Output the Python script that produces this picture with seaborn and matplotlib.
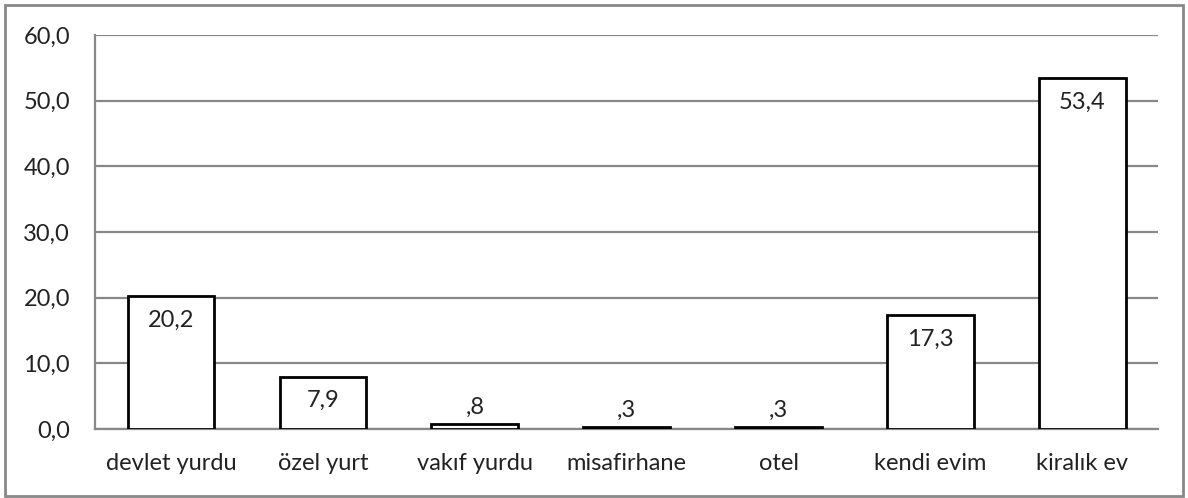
import pandas as pd
import matplotlib.pyplot as plt
import seaborn as sns
from matplotlib.patches import Rectangle
from matplotlib.ticker import FuncFormatter

categories = ['devlet yurdu', 'özel yurt', 'vakıf yurdu', 'misafirhane', 'otel', 'kendi evim', 'kiralık ev']
values = [20.2, 7.9, 0.8, 0.3, 0.3, 17.3, 53.4]
y_ticks = [0, 10, 20, 30, 40, 50, 60]

df = pd.DataFrame({'yer': categories, 'yuzde': values})

sns.set_style('white')
plt.rcParams['font.family'] = ['Lato', 'DejaVu Sans']
FS = 17

fig = plt.figure(figsize=(11.88, 4.98), dpi=100)
ax = fig.add_axes([0.080, 0.1386, 0.895, 0.791])

sns.barplot(data=df, x='yer', y='yuzde', color='white', edgecolor='black',
            linewidth=2, width=0.57, saturation=1, ax=ax, zorder=3)

ax.set_ylim(0, 60)
ax.set_yticks(y_ticks)
ax.yaxis.set_major_formatter(FuncFormatter(lambda v, p: '{:.1f}'.format(v).replace('.', ',')))
ax.grid(axis='y', color='#888888', linewidth=1.6, zorder=0)
ax.set_axisbelow(True)
ax.set_xlabel('')
ax.set_ylabel('')
ax.tick_params(axis='both', length=0, labelsize=FS, colors='#222222')
ax.tick_params(axis='x', pad=17)
ax.tick_params(axis='y', pad=18)
for s in ['top', 'right']:
    ax.spines[s].set_visible(False)
for s in ['left', 'bottom']:
    ax.spines[s].set_color('#888888')
    ax.spines[s].set_linewidth(1.6)

def fmt(v):
    t = '{:.1f}'.format(v).replace('.', ',')
    if t.startswith('0'):
        t = t[1:]
    return t

for i, v in enumerate(values):
    if v > 3:
        ax.annotate(fmt(v), (i, v), xytext=(0, -17), textcoords='offset points',
                    ha='center', va='center', fontsize=FS, color='#222222', zorder=4)
    else:
        ax.annotate(fmt(v), (i, v), xytext=(0, 12), textcoords='offset points',
                    ha='center', va='center', fontsize=FS, color='#222222', zorder=4)

fig.patches.append(Rectangle((5 / 1188, 2 / 498), 1178 / 1188, 491 / 498,
                             transform=fig.transFigure, fill=False,
                             edgecolor='#888888', linewidth=2))

fig.savefig('out.png', dpi=100, facecolor='white')
